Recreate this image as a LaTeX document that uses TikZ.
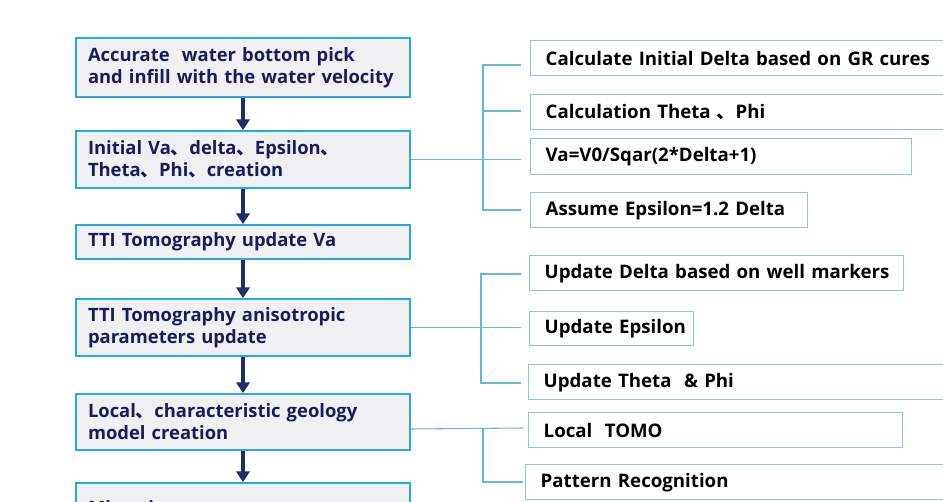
\documentclass[tikz,border=0pt]{standalone}
\usepackage{fontspec}
\setmainfont{Open Sans}
\newfontfamily\cjk{Noto Sans CJK SC}
\usetikzlibrary{arrows.meta,calc}
\definecolor{lborder}{HTML}{29A8E0}
\definecolor{lfill}{HTML}{F0F0F3}
\definecolor{navy}{HTML}{1A1C5A}
\definecolor{arrowc}{HTML}{1D2E6B}
\definecolor{rborder}{HTML}{86C8DE}
\definecolor{connc}{HTML}{62B8D6}
\newcommand\dun{{\cjk 、}}
\begin{document}
\begin{tikzpicture}[x=0.75pt,y=-0.75pt,
  lbox/.style={draw=lborder, line width=1.5pt, fill=lfill, text=navy,
    font=\bfseries\fontsize{13.8}{16.5}\selectfont, align=left, anchor=north west,
    inner xsep=9pt, inner ysep=0pt, text width=232.5pt, minimum height=#1*0.75pt},
  rbox/.style={draw=rborder, line width=1.1pt, fill=white, text=black,
    font=\bfseries\fontsize{14}{16}\selectfont, align=left, anchor=north west,
    inner xsep=11.25pt, inner ysep=0pt, minimum height=26.25pt},
  flow/.style={arrowc, line width=2.4pt, -{Triangle[width=10pt,length=8pt]}},
  conn/.style={connc, line width=0.8pt}]
\useasboundingbox (0,0) rectangle (943,502);
\clip (0,0) rectangle (943,502);
\fill[white] (0,0) rectangle (943,502);
% left column
\node[lbox=59] (b1) at (75,37) {Accurate\ \ water bottom pick\\and infill with the water velocity};
\node[lbox=57] (b2) at (75,130) {Initial Va\dun delta\dun Epsilon\dun\\Theta\dun Phi\dun creation};
\node[lbox=34] (b3) at (75,224) {TTI Tomography update Va};
\node[lbox=57] (b4) at (75,298) {TTI Tomography anisotropic\\parameters update};
\node[lbox=56] (b5) at (75,393) {Local\dun characteristic geology\\model creation};
\node[lbox=72] (b6) at (75,482) {Migration\\\mbox{}};
\draw[flow] (b1.south) -- (b2.north);
\draw[flow] (b2.south) -- (b3.north);
\draw[flow] (b3.south) -- (b4.north);
\draw[flow] (b4.south) -- (b5.north);
\draw[flow] (b5.south) -- (b6.north);
% right column
\node[rbox, text width=292.5pt] (r1) at (530,40) {\mbox{Calculate Initial Delta based on GR cures}};
\node[rbox, text width=292.5pt] (r2) at (530,94) {\mbox{Calculation Theta \dun Phi}};
\node[rbox, text width=263.25pt, minimum height=27pt] (r3) at (530,138) {\mbox{Va=V0/Sqar(2*Delta+1)}};
\node[rbox, text width=185.25pt] (r4) at (530,192) {\mbox{Assume Epsilon=1.2 Delta}};
\node[rbox, text width=258pt] (r5) at (529,255) {\mbox{Update Delta based on well markers}};
\node[rbox, text width=100.5pt, minimum height=25.5pt] (r6) at (529,311) {\mbox{Update Epsilon}};
\node[rbox, text width=292.5pt] (r7) at (528,364) {\mbox{Update Theta\ \ \& Phi}};
\node[rbox, text width=258pt] (r8) at (528,412) {\mbox{Local\ \ TOMO}};
\node[rbox, text width=296.25pt] (r9) at (525,464) {\mbox{Pattern Recognition}};
% bracket 1
\coordinate (k1a) at (521,65);
\coordinate (k1b) at (521,111);
\coordinate (k1c) at (521,156);
\coordinate (k1d) at (521,210);
\coordinate (s1a) at (483,65);
\coordinate (s1d) at (483,210);
\draw[conn] (k1a) -- (s1a) -- (s1d) -- (k1d);
\draw[conn] (s1a |- k1b) -- (k1b);
\draw[conn] (b2.east) -- (b2.east -| k1c);
% bracket 2
\coordinate (k2a) at (521,274);
\coordinate (k2c) at (521,383);
\coordinate (s2a) at (481,274);
\coordinate (s2c) at (481,383);
\draw[conn] (k2a) -- (s2a) -- (s2c) -- (k2c);
\draw[conn] (b4.east) -- (b4.east -| k2a);
% bracket 3
\coordinate (f3) at ($(b5.east)+(0,7)$);
\coordinate (k3a) at (523,428);
\coordinate (s3a) at (483,428);
\coordinate (s3b) at (483,482);
\coordinate (k3b) at (523,482);
\draw[conn] (f3) -- (k3a);
\draw[conn] (s3a) -- (s3b) -- (k3b);
\end{tikzpicture}
\end{document}
